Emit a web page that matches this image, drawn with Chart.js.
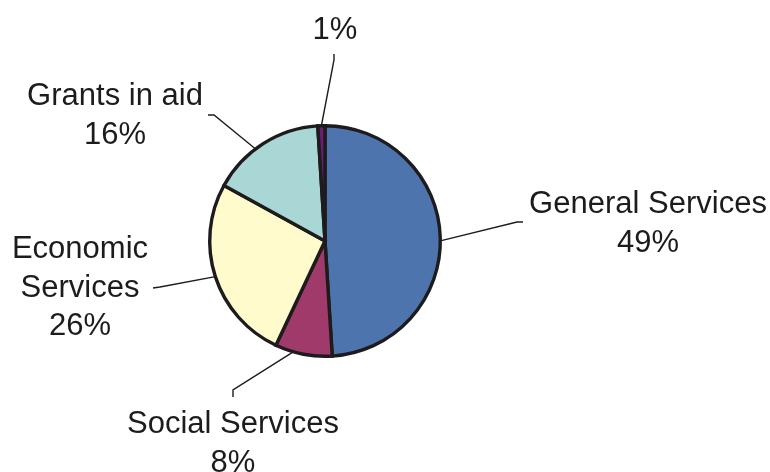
<!DOCTYPE html>
<html>
<head>
<meta charset="utf-8">
<script src="https://cdn.jsdelivr.net/npm/chart.js@4/dist/chart.umd.min.js"></script>
<style>
  html, body { margin: 0; padding: 0; background: #ffffff; }
  #wrap { width: 770px; height: 472px; position: relative; }
</style>
</head>
<body>
<div id="wrap"><canvas id="pie"></canvas></div>
<script>
// Expenditure shares by head
const categories = ['General Services', 'Social Services', 'Economic Services', 'Grants in aid', ''];
const shares = [49, 8, 26, 16, 1];
const sliceColors = ['#4E74AE', '#A03A6B', '#FFFBCC', '#A9D7D5', '#6A1D74'];

// Label text lines (name lines + percentage)
const labelLines = [
  ['General Services'],
  ['Social Services'],
  ['Economic', 'Services'],
  ['Grants in aid'],
  []
];

// Label placement: centre x, first baseline y, leader elbow and leader end,
// and where along each slice the leader touches the rim (0..1)
const labelLayout = [
  { x: 648, y: 213, elbow: [517, 222], end: [523, 222], at: 0.51 },
  { x: 233, y: 433, elbow: [233, 390], end: [233, 397], at: 0.68 },
  { x: 80,  y: 258, elbow: [160, 287], end: [153, 288], at: 0.5 },
  { x: 115, y: 105, elbow: [214, 115], end: [208, 115], at: 0.42 },
  { x: 335, y: 39,  elbow: [334, 60],  end: [334, 54],  at: 0.5 }
];

const INK = '#1E1B1C';
const FONT = '31px "Liberation Sans", Arial, sans-serif';
const LINE_GAP = 38.5;

const leaderLabels = {
  id: 'leaderLabels',
  afterDatasetsDraw(chart) {
    const ctx = chart.ctx;
    const meta = chart.getDatasetMeta(0);
    ctx.save();
    meta.data.forEach((arc, i) => {
      const lay = labelLayout[i];
      const p = arc.getProps(['x', 'y', 'startAngle', 'endAngle', 'outerRadius'], true);
      const a = p.startAngle + (p.endAngle - p.startAngle) * lay.at;
      const rx = p.x + Math.cos(a) * p.outerRadius;
      const ry = p.y + Math.sin(a) * p.outerRadius;
      ctx.strokeStyle = INK;
      ctx.lineWidth = 1.4;
      ctx.beginPath();
      ctx.moveTo(rx, ry);
      ctx.lineTo(lay.elbow[0], lay.elbow[1]);
      ctx.lineTo(lay.end[0], lay.end[1]);
      ctx.stroke();

      const lines = labelLines[i].concat([shares[i] + '%']);
      ctx.fillStyle = INK;
      ctx.font = FONT;
      ctx.textAlign = 'center';
      ctx.textBaseline = 'alphabetic';
      lines.forEach((t, k) => ctx.fillText(t, lay.x, lay.y + k * LINE_GAP));
    });
    ctx.restore();
  }
};

new Chart(document.getElementById('pie'), {
  type: 'pie',
  data: {
    labels: categories,
    datasets: [{
      data: shares,
      backgroundColor: sliceColors,
      borderColor: INK,
      borderWidth: 3.4,
      borderJoinStyle: 'miter'
    }]
  },
  options: {
    responsive: true,
    maintainAspectRatio: false,
    animation: false,
    layout: { padding: { top: 124, bottom: 114, left: 208, right: 328 } },
    plugins: {
      legend: { display: false },
      tooltip: { enabled: false }
    }
  },
  plugins: [leaderLabels]
});
</script>
</body>
</html>
